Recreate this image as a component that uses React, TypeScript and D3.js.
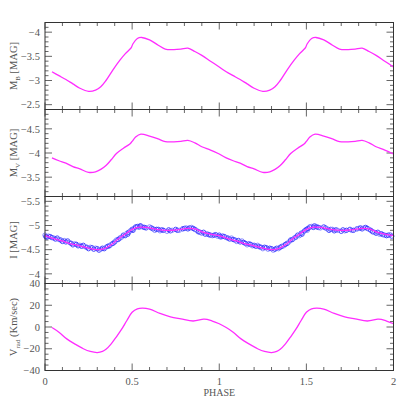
import React from 'react';
import * as d3 from 'd3';

// one pulsation cycle, [phase, value]; drawn twice (phase and phase + 1)
const mbCycle = [
  [0.0, -3.28], [0.04, -3.18], [0.08, -3.1], [0.12, -3.02], [0.16, -2.93], [0.2, -2.84],
  [0.25, -2.775], [0.29, -2.8], [0.32, -2.87], [0.35, -3.0], [0.39, -3.22], [0.43, -3.42],
  [0.46, -3.55], [0.485, -3.64], [0.495, -3.68], [0.505, -3.76], [0.53, -3.87], [0.555, -3.89],
  [0.6, -3.84], [0.65, -3.73], [0.69, -3.65], [0.74, -3.64], [0.78, -3.65], [0.82, -3.67],
  [0.86, -3.6], [0.9, -3.52], [0.95, -3.4], [1.0, -3.28],
];

const mvCycle = [
  [0.0, -3.98], [0.04, -3.9], [0.08, -3.84], [0.12, -3.79], [0.16, -3.72], [0.2, -3.67],
  [0.25, -3.6], [0.29, -3.61], [0.32, -3.66], [0.35, -3.74], [0.38, -3.86], [0.41, -3.99],
  [0.45, -4.1], [0.485, -4.18], [0.5, -4.24], [0.52, -4.33], [0.55, -4.39], [0.6, -4.35],
  [0.65, -4.29], [0.69, -4.235], [0.74, -4.23], [0.78, -4.24], [0.82, -4.26], [0.86, -4.21],
  [0.9, -4.13], [0.95, -4.06], [1.0, -3.98],
];

const iCycle = [
  [0.0, -4.79], [0.05, -4.73], [0.1, -4.68], [0.15, -4.62], [0.2, -4.58], [0.25, -4.53],
  [0.3, -4.5], [0.34, -4.52], [0.38, -4.6], [0.42, -4.72], [0.46, -4.82], [0.5, -4.92],
  [0.54, -4.965], [0.58, -4.96], [0.64, -4.92], [0.7, -4.9], [0.76, -4.91], [0.82, -4.94],
  [0.86, -4.93], [0.9, -4.87], [0.95, -4.82], [1.0, -4.79],
];

// observed I magnitudes (open circles)
const iObs = [
  [0.0, -4.8], [0.005, -4.77], [0.01, -4.76], [0.02, -4.78], [0.03, -4.77], [0.04, -4.75],
  [0.05, -4.74], [0.06, -4.72], [0.07, -4.74], [0.08, -4.71], [0.09, -4.7], [0.1, -4.67],
  [0.11, -4.69], [0.12, -4.66], [0.13, -4.68], [0.14, -4.65], [0.15, -4.63], [0.16, -4.6],
  [0.17, -4.62], [0.18, -4.61], [0.19, -4.58], [0.2, -4.59], [0.21, -4.57], [0.22, -4.59],
  [0.23, -4.56], [0.24, -4.55], [0.25, -4.52], [0.26, -4.55], [0.27, -4.54], [0.28, -4.51],
  [0.29, -4.53], [0.3, -4.52], [0.31, -4.49], [0.32, -4.51], [0.33, -4.53], [0.34, -4.52],
  [0.35, -4.55], [0.36, -4.57], [0.37, -4.58], [0.38, -4.61], [0.39, -4.63], [0.4, -4.66],
  [0.41, -4.7], [0.42, -4.71], [0.43, -4.74], [0.44, -4.76], [0.45, -4.8], [0.46, -4.79],
  [0.47, -4.84], [0.475, -4.82], [0.48, -4.86], [0.49, -4.89], [0.5, -4.92], [0.505, -4.9],
  [0.51, -4.94], [0.52, -4.97], [0.53, -4.98], [0.54, -4.96], [0.545, -4.99], [0.55, -4.99],
  [0.56, -4.97], [0.57, -4.96], [0.58, -4.95], [0.6, -4.97], [0.61, -4.95], [0.62, -4.93],
  [0.63, -4.9], [0.64, -4.92], [0.65, -4.92], [0.66, -4.89], [0.67, -4.91], [0.68, -4.9],
  [0.7, -4.88], [0.71, -4.91], [0.72, -4.89], [0.73, -4.9], [0.75, -4.92], [0.76, -4.9],
  [0.77, -4.9], [0.79, -4.93], [0.8, -4.94], [0.81, -4.95], [0.82, -4.93], [0.83, -4.95],
  [0.84, -4.96], [0.85, -4.94], [0.86, -4.92], [0.87, -4.9], [0.88, -4.87], [0.89, -4.86],
  [0.9, -4.84], [0.91, -4.86], [0.92, -4.82], [0.93, -4.83], [0.94, -4.81], [0.95, -4.8],
  [0.96, -4.79], [0.97, -4.8], [0.98, -4.81], [0.99, -4.78],
];

const vradCycle = [
  [0.0, 3], [0.04, -0.5], [0.08, -4.8], [0.125, -10.9], [0.17, -15.5], [0.22, -20],
  [0.26, -22.5], [0.3, -23.5], [0.33, -22.5], [0.35, -20.5], [0.38, -15.5], [0.41, -9],
  [0.44, -2], [0.47, 6], [0.5, 13.5], [0.53, 16.7], [0.56, 17.3], [0.6, 16.4], [0.66, 12.5],
  [0.72, 9.4], [0.78, 7.5], [0.85, 5.5], [0.91, 7.2], [0.93, 7.0], [0.96, 5.5], [1.0, 3],
];

const yDomains = [[-2.4, -4.2], [-3.1, -4.9], [-3.8, -5.6], [-40, 40]];
const yMajor = [[-4, -3.5, -3, -2.5], [-4.5, -4, -3.5], [-5.5, -5, -4.5, -4], [40, 20, 0, -20, -40]];
const yMinorStep = [0.1, 0.1, 0.1, 5];
const xMajor = [0, 0.5, 1, 1.5, 2];

const W = 415;
const left = 45, right = 393.5;
const panelTops = [22.5, 109.5, 196.5, 283.5];
const panelH = 87;
const magenta = '#ff2dff';
const frame = '#333';
const tickCol = '#666';
const font = "'Liberation Serif', 'DejaVu Serif', serif";

const twoCycles = (cycle, start = 0.04) => {
  const out = [];
  [0, 1].forEach((k) => cycle.forEach(([p, v]) => {
    const ph = p + k;
    if (ph >= start && ph <= 2.0001) out.push([ph, v]);
  }));
  return out;
};

const fmt = (v) => String(v).replace('-', '\u2212');

const Panel = ({ idx, x, curve, obs }) => {
  const top = panelTops[idx];
  const y = d3.scaleLinear().domain(yDomains[idx]).range([top + panelH, top]);
  const line = d3.line().x((d) => x(d[0])).y((d) => y(d[1])).curve(d3.curveCatmullRom.alpha(0.5));
  const [a, b] = yDomains[idx];
  const lo = Math.min(a, b), hi = Math.max(a, b);
  const step = yMinorStep[idx];
  const minor = d3.range(Math.ceil(lo / step - 1e-6), Math.floor(hi / step + 1e-6) + 1).map((k) => k * step);
  const xMinor = d3.range(0, 21).map((k) => k / 10);
  const isMajX = (t) => xMajor.some((m) => Math.abs(m - t) < 1e-6);
  const isMajY = (t) => yMajor[idx].some((m) => Math.abs(m - t) < 1e-6);
  return (
    <g>
      {xMinor.map((t) => {
        const len = isMajX(t) ? 7 : 3.5;
        return (
          <g key={'x' + t} stroke={tickCol} strokeWidth={1}>
            <line x1={x(t)} x2={x(t)} y1={top} y2={top + len} />
            <line x1={x(t)} x2={x(t)} y1={top + panelH} y2={top + panelH - len} />
          </g>
        );
      })}
      {minor.map((t) => {
        const len = isMajY(t) ? 7 : 3.5;
        return (
          <g key={'y' + t} stroke={tickCol} strokeWidth={1}>
            <line x1={left} x2={left + len} y1={y(t)} y2={y(t)} />
            <line x1={right} x2={right - len} y1={y(t)} y2={y(t)} />
          </g>
        );
      })}
      {yMajor[idx].map((t) => (
        <text key={'l' + t} x={40} y={y(t)} dy="0.35em" textAnchor="end" fontSize={10.5} fill="#555" fontFamily={font}>
          {fmt(t)}
        </text>
      ))}
      {obs && obs.map((d, i) => (
        <circle key={i} cx={x(d[0])} cy={y(d[1])} r={2.2} fill="none" stroke={i % 3 === 0 ? '#8080ff' : '#3838ff'} strokeWidth={0.9} />
      ))}
      <path d={line(curve)} fill="none" stroke={magenta} strokeWidth={1.3} />
      <rect x={left} y={top} width={right - left} height={panelH} fill="none" stroke={frame} strokeWidth={1} />
    </g>
  );
};

const App = () => {
  const x = d3.scaleLinear().domain([0, 2]).range([left, right]);
  const obsBoth = [0, 1].flatMap((k) => iObs.map(([p, v]) => [p + k, v]));
  const labelY = panelTops.map((t) => t + panelH / 2);
  return (
    <svg width={W} height={W} style={{ position: 'absolute', left: 0, top: 0, background: '#fff' }}>
      <Panel idx={0} x={x} curve={twoCycles(mbCycle)} />
      <Panel idx={1} x={x} curve={twoCycles(mvCycle)} />
      <Panel idx={2} x={x} curve={twoCycles(iCycle, 0)} obs={obsBoth} />
      <Panel idx={3} x={x} curve={twoCycles(vradCycle)} />

      {xMajor.map((t) => (
        <text key={t} x={x(t)} y={385} textAnchor="middle" fontSize={10.5} fill="#555" fontFamily={font}>
          {t}
        </text>
      ))}
      <text x={x(1)} y={396} textAnchor="middle" fontSize={10} fill="#555" fontFamily={font}>PHASE</text>

      <g fill="#555" fontFamily={font} fontSize={10.5}>
        <text transform={`translate(17,${labelY[0]}) rotate(-90)`} textAnchor="middle">
          M<tspan fontSize={7} dy={3}>B</tspan><tspan dy={-3}> [MAG]</tspan>
        </text>
        <text transform={`translate(17,${labelY[1]}) rotate(-90)`} textAnchor="middle">
          M<tspan fontSize={7} dy={3}>V</tspan><tspan dy={-3}> [MAG]</tspan>
        </text>
        <text transform={`translate(17,${labelY[2]}) rotate(-90)`} textAnchor="middle">I  [MAG]</text>
        <text transform={`translate(17,${labelY[3]}) rotate(-90)`} textAnchor="middle">
          V<tspan fontSize={7} dy={3}>rad</tspan><tspan dy={-3}> (Km/sec)</tspan>
        </text>
      </g>
    </svg>
  );
};

export default App;
